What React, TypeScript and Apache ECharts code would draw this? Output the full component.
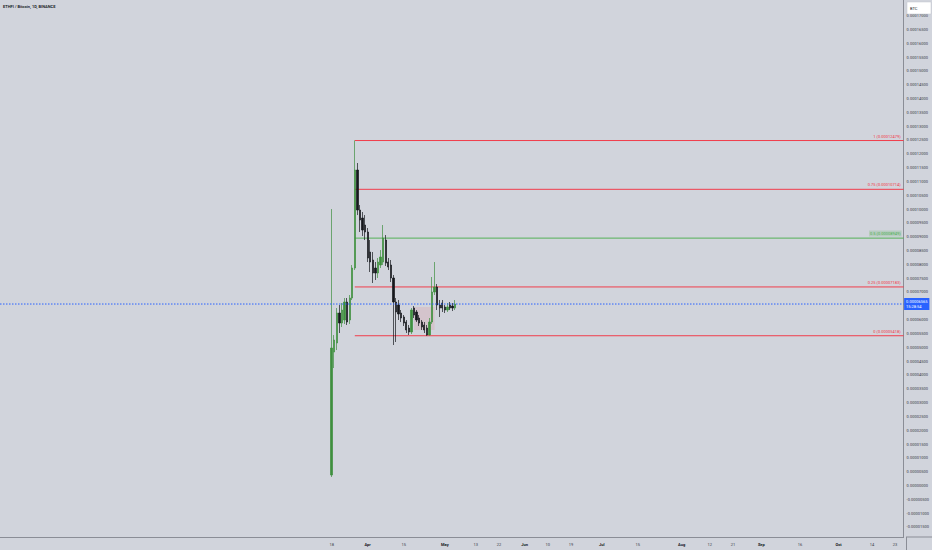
import React, { useEffect, useRef } from "react";
import * as echarts from "echarts";

// ---- data (prices in satoshi, 1e-8 BTC) ----
const START_DATE = "2024-03-18";
const OPEN = [380, 4829, 5155, 6240, 5878, 5987, 6638, 5987, 6782, 7867, 11412, 9965, 9676, 9423, 9170, 8446, 8157, 7867, 7687, 7976, 8084, 8880, 8084, 7976, 7506, 6638, 6529, 6240, 6095, 5914, 5697, 5553, 6421, 6276, 6059, 5914, 5806, 5697, 5444, 5914, 6999, 7180, 6529, 6601, 6457, 6348, 6529, 6493, 6421];
const CLOSE = [4974, 5263, 6240, 5878, 6348, 6638, 5914, 6782, 7867, 11412, 9965, 9604, 9242, 9170, 8229, 8084, 7687, 7687, 8084, 8265, 8953, 8048, 7904, 7506, 6638, 6276, 6204, 6059, 5878, 5625, 5553, 6348, 6167, 5987, 5878, 5733, 5625, 5444, 5914, 6999, 7180, 6529, 6421, 6421, 6348, 6457, 6421, 6421, 6565];
const HIGH = [10001, 5444, 6421, 6529, 6601, 6782, 6782, 6891, 7976, 12479, 11665, 10146, 9893, 9784, 9314, 8880, 8446, 8084, 8229, 8518, 9423, 9061, 8229, 8157, 7614, 6782, 6710, 6348, 6167, 5987, 5806, 6421, 6493, 6348, 6167, 5987, 5914, 5806, 6059, 7542, 8084, 7289, 6710, 6710, 6529, 6601, 6638, 6601, 6710];
const LOW = [308, 4250, 4901, 5516, 5733, 5842, 5806, 5842, 6710, 7795, 9784, 9170, 9025, 8880, 8084, 7723, 7325, 7433, 7506, 7867, 7976, 7940, 7795, 7361, 5082, 5191, 5987, 5914, 5770, 5516, 5444, 5480, 6059, 5914, 5770, 5625, 5516, 5418, 5430, 5842, 6891, 6348, 6095, 6276, 6240, 6276, 6348, 6312, 6348];

const FIB_RATIOS = ["1", "0.75", "0.5", "0.25", "0"];
const FIB_VALUES = [12479, 10714, 8949, 7183, 5418];
const FIB_COLORS = ["#f23645", "#f23645", "#4caf50", "#f23645", "#f23645"];
const FIB_START_INDEX = 9;

const SHADE_FROM_INDEX = 32;
const SHADE_TO_INDEX = 40;
const SHADE_TOP = 6457;
const SHADE_BOTTOM = 5625;

const X_LABELS: [string, string, boolean][] = [
  ["2024-03-18", "18", false],
  ["2024-04-01", "Apr", true],
  ["2024-04-15", "15", false],
  ["2024-05-01", "May", true],
  ["2024-05-13", "13", false],
  ["2024-05-22", "22", false],
  ["2024-06-01", "Jun", true],
  ["2024-06-10", "10", false],
  ["2024-06-19", "19", false],
  ["2024-07-01", "Jul", true],
  ["2024-07-15", "15", false],
  ["2024-08-01", "Aug", true],
  ["2024-08-12", "12", false],
  ["2024-08-21", "21", false],
  ["2024-09-01", "Sep", true],
  ["2024-09-16", "16", false],
  ["2024-10-01", "Oct", true],
  ["2024-10-14", "14", false],
  ["2024-10-23", "23", false],
];

// 0.000065 is hidden behind the last-price box in the reference
const Y_TICKS = [
  -0.000015, -0.00001, -0.000005, 0, 0.000005, 0.00001, 0.000015, 0.00002, 0.000025,
  0.00003, 0.000035, 0.00004, 0.000045, 0.00005, 0.000055, 0.00006, 0.00007,
  0.000075, 0.00008, 0.000085, 0.00009, 0.000095, 0.0001, 0.000105, 0.00011, 0.000115,
  0.00012, 0.000125, 0.00013, 0.000135, 0.00014, 0.000145, 0.00015, 0.000155, 0.00016,
  0.000165, 0.00017,
];

const TITLE = "ETHFI / Bitcoin, 1D, BINANCE";
const PRICE_COUNTDOWN = "15:28:54";

// ---- constants ----
const SAT = 1e-8;
const DAY = 86400000;
const BG = "#d1d4dc";
const UP = "#3f8f3f";
const DOWN = "#16181d";
const TEXT = "#3a3d47";

export default function App() {
  const ref = useRef<HTMLDivElement>(null);

  useEffect(() => {
    if (!ref.current) return;
    const chart = echarts.init(ref.current, null, { renderer: "svg" });
    const t0 = Date.parse(START_DATE);
    const xMin = t0 - 128.9 * DAY;
    const xMax = t0 + 222.3 * DAY;
    const candles = OPEN.map((o, i) => [
      t0 + i * DAY,
      o * SAT,
      CLOSE[i] * SAT,
      LOW[i] * SAT,
      HIGH[i] * SAT,
    ]);
    const lastClose = CLOSE[CLOSE.length - 1] * SAT;
    const labelMap = new Map<number, [string, boolean]>();
    X_LABELS.forEach(([d, t, b]) => labelMap.set(Date.parse(d), [t, b]));
    const fibStart = t0 + FIB_START_INDEX * DAY;

    const hiddenPoint = { symbol: "none" };

    const fibSeries = FIB_VALUES.map((v, i) => ({
      type: "line",
      name: "fib" + FIB_RATIOS[i],
      symbol: "circle",
      symbolSize: 0.01,
      showSymbol: true,
      silent: true,
      clip: false,
      z: 3,
      itemStyle: { color: FIB_COLORS[i], opacity: 0 },
      lineStyle: { color: FIB_COLORS[i], width: 1, type: "solid", opacity: 0.95 },
      label: { show: false },
      data: [
        { value: [fibStart, v * SAT], ...hiddenPoint },
        {
          value: [xMax, v * SAT],
          label: {
            show: true,
            position: "top",
            align: "right",
            distance: 1.5,
            offset: [-2, 0],
            formatter: `${FIB_RATIOS[i]} (${(v * SAT).toFixed(8)})`,
            color: FIB_COLORS[i],
            fontSize: 4,
            opacity: 1,
            backgroundColor: FIB_RATIOS[i] === "0.5" ? "rgba(76,175,80,0.2)" : "transparent",
            padding: [1, 1],
          },
        },
      ],
    }));

    const option: any = {
      animation: false,
      backgroundColor: BG,
      textStyle: { fontFamily: "Roboto, 'Noto Sans', sans-serif" },
      title: {
        text: TITLE,
        left: 3,
        top: 4,
        padding: 0,
        textStyle: { fontSize: 4, fontWeight: 600, color: "#131722", fontFamily: "Roboto, sans-serif" },
      },
      grid: { left: 0, right: 26, top: 0, bottom: 13, containLabel: false },
      xAxis: {
        type: "value",
        min: xMin,
        max: xMax,
        axisLine: { show: true, onZero: false, lineStyle: { color: "#8a8d96", width: 1 } },
        axisTick: { show: false },
        splitLine: { show: false },
        axisLabel: {
          customValues: X_LABELS.map(([d]) => Date.parse(d)),
          fontSize: 4,
          color: TEXT,
          margin: 5,
          formatter: (val: number) => {
            const l = labelMap.get(val);
            if (!l) return "";
            return l[1] ? `{b|${l[0]}}` : l[0];
          },
          rich: { b: { fontSize: 4, fontWeight: "bold", color: "#131722" } },
        },
      },
      yAxis: {
        type: "value",
        position: "right",
        min: -0.00001862,
        max: 0.00017562,
        axisLine: { show: true, onZero: false, lineStyle: { color: "#8a8d96", width: 1 } },
        axisTick: { show: false },
        splitLine: { show: false },
        axisLabel: {
          customValues: Y_TICKS,
          fontSize: 4,
          color: TEXT,
          margin: 3,
          align: "left",
          formatter: (v: number) => v.toFixed(8),
        },
      },
      graphic: [
        {
          type: "rect",
          shape: { x: 907, y: 2, width: 24, height: 12 },
          style: { fill: "#ffffff", stroke: "#c3c6ce", lineWidth: 0.5 },
          z: 10,
        },
        {
          type: "text",
          x: 910,
          y: 8,
          style: { text: "BTC", fontSize: 4, fill: "#131722", verticalAlign: "middle", fontFamily: "Roboto, sans-serif" },
          z: 11,
        },
        {
          type: "line",
          shape: { x1: 906, y1: 537, x2: 932, y2: 537 },
          style: { stroke: "#8a8d96", lineWidth: 1 },
        },
        {
          type: "line",
          shape: { x1: 906.5, y1: 537, x2: 906.5, y2: 550 },
          style: { stroke: "#8a8d96", lineWidth: 1 },
        },
      ],
      series: [
        {
          type: "line",
          name: "price",
          symbol: "circle",
          symbolSize: 0.01,
          showSymbol: true,
          silent: true,
          clip: false,
          z: 5,
          itemStyle: { color: "#2962ff", opacity: 0 },
          lineStyle: { color: "#2962ff", width: 1, type: [1.5, 1.5] },
          data: [
            { value: [xMin, lastClose], ...hiddenPoint },
            {
              value: [xMax, lastClose],
              label: {
                show: true,
                position: "right",
                distance: 0.5,
                formatter: `${lastClose.toFixed(8)}\n${PRICE_COUNTDOWN}`,
                color: "#ffffff",
                backgroundColor: "#2962ff",
                fontSize: 4,
                lineHeight: 5,
                padding: [1, 2, 1, 2],
                align: "left",
                opacity: 1,
              },
            },
          ],
        },
        ...fibSeries,
        {
          type: "candlestick",
          data: candles,
          encode: { x: 0, y: [1, 2, 3, 4] },
          barWidth: 1.8,
          z: 4,
          itemStyle: {
            color: UP,
            color0: DOWN,
            borderColor: UP,
            borderColor0: DOWN,
            borderWidth: 0.7,
          },
          markArea: {
            silent: true,
            itemStyle: { color: "rgba(242,54,69,0.10)" },
            data: [
              [
                { coord: [t0 + SHADE_FROM_INDEX * DAY, SHADE_TOP * SAT] },
                { coord: [t0 + SHADE_TO_INDEX * DAY, SHADE_BOTTOM * SAT] },
              ],
            ],
          },
        },
      ],
    };
    chart.setOption(option);
    return () => chart.dispose();
  }, []);

  return (
    <div
      ref={ref}
      style={{ position: "fixed", left: 0, top: 0, width: 932, height: 550, background: BG }}
    />
  );
}
